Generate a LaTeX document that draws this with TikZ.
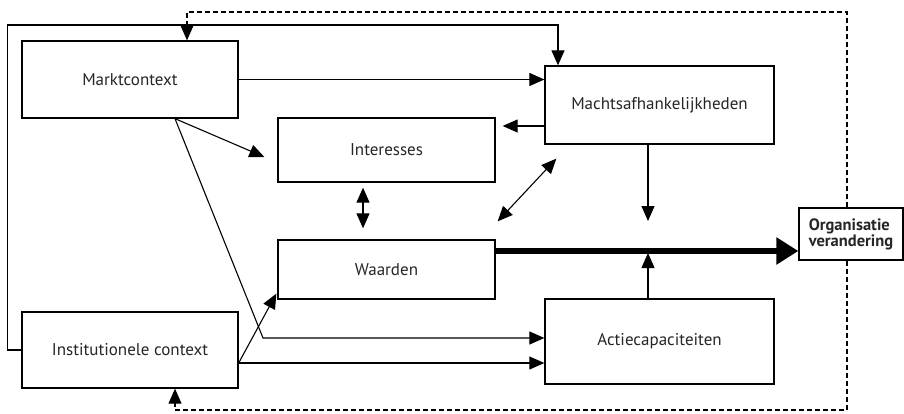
\documentclass[tikz,border=0pt]{standalone}
\usepackage{fontspec}
\setmainfont{PT Sans}
\usetikzlibrary{arrows.meta, calc}

\begin{document}
\begin{tikzpicture}[
  x=1pt, y=-1pt,
  every node/.style={font=\fontsize{17}{19}\selectfont, text=black!85},
  box/.style={draw, line width=1.3pt, fill=white, align=center},
  link/.style={line width=1.1pt, -{Triangle[length=15pt, width=13pt]}},
  twoway/.style={line width=1.1pt, {Triangle[length=15pt, width=13pt]}-{Triangle[length=15pt, width=13pt]}},
  feedback/.style={line width=1.1pt, dash pattern=on 5pt off 3pt, -{Triangle[length=15pt, width=13pt]}},
  mainline/.style={line width=6pt, -{Triangle[length=22pt, width=26pt]}},
]

% Frame
\useasboundingbox (0,0) rectangle (904,414);

% Boxes
\node[box, minimum width=216pt, minimum height=77pt] (markt) at (130,79.5) {Marktcontext};
\node[box, minimum width=216pt, minimum height=76pt] (inst) at (130,350) {Institutionele context};
\node[box, minimum width=217pt, minimum height=64pt] (inter) at (386.5,150) {Interesses};
\node[box, minimum width=217pt, minimum height=59pt] (waard) at (386.5,269.5) {Waarden};
\node[box, minimum width=229pt, minimum height=78pt] (macht) at (659.5,105) {Machtsafhankelijkheden};
\node[box, minimum width=229pt, minimum height=85pt] (actie) at (659.5,341.5) {Actiecapaciteiten};
\node[box, minimum width=104pt, minimum height=52pt, inner xsep=8pt, inner ysep=4pt, align=left,
  font=\fontsize{16.5}{16}\selectfont\bfseries] (org) at (851,234) {Organisatie\\verandering};

% Helper points
\coordinate (solidtop) at (558,25);
\coordinate (dashR) at (847,12);
\coordinate (dashL) at (187,12);
\coordinate (dashB) at (847,410);
\coordinate (dashBL) at (175,410);
\coordinate (mid) at (648,251);
\coordinate (mk) at ($(markt.south)+(45,0)$);
\coordinate (mkb) at (263,338);
\coordinate (ie) at ($(inst.east)+(0,13)$);
\coordinate (mi) at ($(macht.west)+(0,21)$);

% Solid feedback loop
\draw[link] (inst.west) -- ++(-14,0) |- (solidtop) -- (solidtop |- macht.north);

% Dashed feedback loops
\draw[feedback] (org.north -| dashR) -- (dashR) -- (dashL) -- (dashL |- markt.north);
\draw[feedback] (org.south -| dashB) -- (dashB) -- (dashBL) -- (dashBL |- inst.south);

% Market context
\draw[link] (markt.east) -- (macht.west |- markt.east);
\draw[link] (mk) -- ($(inter.west)+(-13,7)$);
\draw[link] (mk) -- (mkb) -- (mkb -| actie.west);

% Institutional context
\draw[link] (ie) -- ($(waard.south west)+(-1,-6)$);
\draw[link] (ie) -- (ie -| actie.west);

% Power and interests
\draw[link, shorten >=7pt] (mi) -- (mi -| inter.east);
\draw[link, shorten >=30pt] (macht.south -| mid) -- (mid);
\draw[link, shorten >=2pt] (actie.north -| mid) -- (mid);
\draw[twoway, shorten <=5pt, shorten >=11pt] ($(inter.south)+(-23.5,0)$) -- ($(waard.north)+(-23.5,0)$);
\draw[twoway] ($(waard.north east)+(2,-18)$) -- ($(macht.south west)+(12,14)$);

% Main arrow to change
\draw[mainline] (waard.east |- mid) -- (org.west |- mid);

\end{tikzpicture}
\end{document}
